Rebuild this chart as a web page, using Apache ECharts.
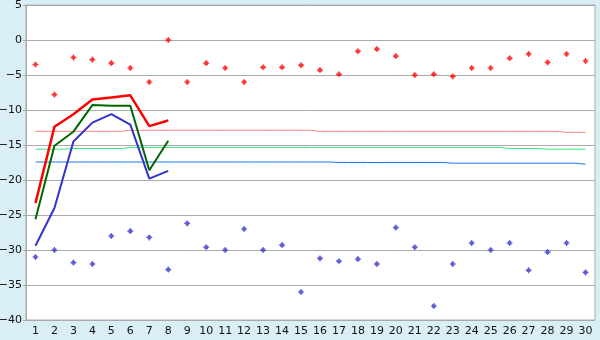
<!DOCTYPE html>
<html><head><meta charset="utf-8">
<script src="https://cdn.jsdelivr.net/npm/echarts@6/dist/echarts.min.js"></script>
<style>html,body{margin:0;padding:0;background:#d9eff5}#c{width:600px;height:340px}</style>
</head><body><div id="c"></div>
<script>
var categories = ['1','2','3','4','5','6','7','8','9','10','11','12','13','14','15','16','17','18','19','20','21','22','23','24','25','26','27','28','29','30'];
var redLine   = [-23.3, -12.4, -10.6, -8.5, -8.2, -7.9, -12.3, -11.5];
var greenLine = [-25.6, -15.1, -13.1, -9.3, -9.4, -9.4, -18.6, -14.4];
var blueLine  = [-29.4, -24.0, -14.5, -11.8, -10.6, -12.1, -19.8, -18.7];
var redPoints = [-3.5, -7.8, -2.5, -2.8, -3.3, -4.0, -6.0, 0.0, -6.0, -3.3, -4.0, -6.0, -3.9, -3.9, -3.6, -4.3, -4.9, -1.6, -1.3, -2.3, -5.0, -4.9, -5.2, -4.0, -4.0, -2.6, -2.0, -3.2, -2.0, -3.0];
var bluePoints = [-31.0, -30.0, -31.8, -32.0, -28.0, -27.3, -28.2, -32.8, -26.2, -29.6, -30.0, -27.0, -30.0, -29.3, -36.0, -31.2, -31.6, -31.3, -32.0, -26.8, -29.6, -38.0, -32.0, -29.0, -30.0, -29.0, -32.9, -30.3, -29.0, -33.2];
var pinkLevel = [-13.05, -13.05, -13.05, -13.05, -13.05, -12.9, -12.9, -12.9, -12.9, -12.9, -12.9, -12.9, -12.9, -12.9, -12.9, -13.05, -13.05, -13.05, -13.05, -13.05, -13.05, -13.05, -13.05, -13.05, -13.05, -13.05, -13.05, -13.05, -13.2, -13.2];
var greenLevel = [-15.6, -15.6, -15.5, -15.5, -15.5, -15.35, -15.35, -15.35, -15.35, -15.35, -15.35, -15.35, -15.35, -15.35, -15.35, -15.35, -15.35, -15.35, -15.35, -15.35, -15.35, -15.35, -15.35, -15.35, -15.35, -15.5, -15.5, -15.6, -15.6, -15.6];
var blueLevel = [-17.43, -17.43, -17.43, -17.43, -17.43, -17.43, -17.43, -17.43, -17.43, -17.43, -17.43, -17.43, -17.43, -17.43, -17.43, -17.43, -17.5, -17.5, -17.5, -17.5, -17.5, -17.5, -17.6, -17.6, -17.6, -17.6, -17.6, -17.6, -17.6, -17.75];
var yTicks = {min: -40, max: 5, interval: 5};

var marker = 'path://M2,0H3V1H4V2H5V3H4V4H3V5H2V4H1V3H0V2H1V1H2Z';
var chart = echarts.init(document.getElementById('c'), null, {renderer: 'canvas'});
chart.setOption({
  animation: false,
  backgroundColor: '#d9eff5',
  grid: {left: 26, right: 5, top: 5, bottom: 20, containLabel: false, outerBoundsMode: 'none',
    show: true, backgroundColor: '#ffffff', borderColor: '#aaaaaa', borderWidth: 1},
  xAxis: {
    type: 'category', data: categories, boundaryGap: true,
    axisLine: {lineStyle: {color: '#aaaaaa'}},
    axisTick: {alignWithLabel: true, length: 5, lineStyle: {color: '#222'}},
    axisLabel: {interval: 0, color: '#111', fontFamily: 'DejaVu Sans', fontSize: 11, margin: 6},
    splitLine: {show: false}
  },
  yAxis: {
    type: 'value', min: yTicks.min, max: yTicks.max, interval: yTicks.interval,
    axisLine: {show: true, lineStyle: {color: '#aaaaaa'}},
    axisTick: {show: true, length: 3, lineStyle: {color: '#aaaaaa'}},
    axisLabel: {color: '#111', fontFamily: 'DejaVu Sans', fontSize: 11, margin: 4,
      formatter: function (v) { return String(v).replace('-', '\u2212'); }},
    splitLine: {show: true, lineStyle: {color: '#aaaaaa', width: 1}}
  },
  series: [
    {type: 'line', data: pinkLevel, step: 'middle', symbol: 'none', lineStyle: {color: '#ff8080', width: 1}, z: 2},
    {type: 'line', data: greenLevel, step: 'middle', symbol: 'none', lineStyle: {color: '#30e878', width: 1}, z: 2},
    {type: 'line', data: blueLevel, step: 'middle', symbol: 'none', lineStyle: {color: '#1a78e6', width: 1}, z: 2},
    {type: 'line', data: blueLine, symbol: 'none', lineStyle: {color: '#3333cc', width: 2}, z: 3},
    {type: 'line', data: greenLine, symbol: 'none', lineStyle: {color: '#006600', width: 2}, z: 4},
    {type: 'line', data: redLine, symbol: 'none', lineStyle: {color: '#ff0000', width: 2.5}, z: 5},
    {type: 'scatter', data: redPoints, symbol: marker, symbolSize: 6, itemStyle: {color: '#ff0000'}, z: 6},
    {type: 'scatter', data: bluePoints, symbol: marker, symbolSize: 6, itemStyle: {color: '#3333cc'}, z: 6}
  ]
});
</script></body></html>
